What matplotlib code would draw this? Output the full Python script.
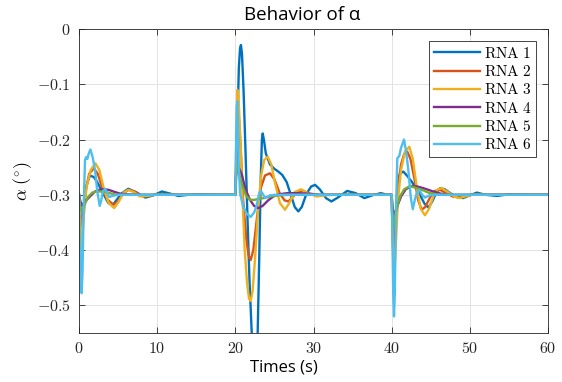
import numpy as np
import matplotlib
matplotlib.use("Agg")
import matplotlib.pyplot as plt
from matplotlib.ticker import FuncFormatter

plt.rcParams['mathtext.fontset'] = 'cm'

# RNA 1
t1 = [0, 0.15, 0.34, 0.6, 0.9, 1.4, 1.9, 2.3, 3.0, 3.75, 4.4, 5.4, 6.3, 7.4, 8.5, 9.5, 10.6, 11.7, 12.7, 14.0, 15.5, 17, 20.0,
      20.1, 20.25, 20.45, 20.6, 20.72, 20.85, 21.05, 21.3, 21.55, 21.8, 22.09, 22.3, 22.47, 22.65, 22.86, 23.05, 23.25, 23.4, 23.5,
      23.65, 23.9, 24.43, 25.0, 25.5, 26.0, 26.57, 27.1, 27.6, 28.06, 28.5, 29.1, 29.7, 30.2, 30.8, 31.6, 32.3, 33.1, 34.3, 35.4,
      36.5, 37.5, 38.6, 39.5, 40.0,
      40.1, 40.3, 40.5, 40.75, 41.06, 41.5, 42.0, 42.56, 43.1, 43.62, 44.2, 44.7, 45.2, 45.7, 46.2, 46.8, 47.5, 48.1, 49.1, 50.0,
      50.9, 52.0, 53.5, 55, 57, 60]
a1 = [-0.3, -0.33, -0.37, -0.32, -0.285, -0.265, -0.268, -0.276, -0.295, -0.315, -0.317, -0.298, -0.289, -0.296, -0.305, -0.301,
      -0.294, -0.298, -0.302, -0.3, -0.299, -0.3, -0.3,
      -0.27, -0.18, -0.07, -0.035, -0.029, -0.045, -0.11, -0.22, -0.34, -0.45, -0.548, -0.6, -0.62, -0.6, -0.548, -0.42, -0.27, -0.2,
      -0.189, -0.2, -0.225, -0.245, -0.253, -0.258, -0.264, -0.277, -0.3, -0.322, -0.33, -0.322, -0.298, -0.285, -0.282, -0.29,
      -0.306, -0.312, -0.305, -0.293, -0.297, -0.306, -0.301, -0.297, -0.3, -0.3,
      -0.36, -0.45, -0.36, -0.28, -0.261, -0.258, -0.266, -0.276, -0.288, -0.3, -0.316, -0.323, -0.312, -0.296, -0.288, -0.29,
      -0.297, -0.302, -0.306, -0.301, -0.296, -0.3, -0.302, -0.299, -0.3, -0.3]

# RNA 2
t2 = [0, 0.15, 0.34, 0.6, 0.9, 1.3, 1.9, 2.4, 3.0, 3.6, 4.4, 5.0, 5.6, 6.3, 7.1, 8.0, 9.0, 10.5, 12, 20.0,
      20.1, 20.3, 20.45, 20.7, 21.0, 21.4, 21.7, 21.96, 22.3, 22.7, 23.2, 23.8, 24.43, 25.0, 25.7, 26.3, 26.78, 27.4, 28.0, 28.7,
      29.5, 30.5, 31.5, 40.0,
      40.1, 40.3, 40.5, 40.8, 41.2, 41.6, 42.0, 42.4, 42.9, 43.4, 43.84, 44.3, 44.9, 45.5, 46.2, 47.0, 47.8, 48.7, 49.6, 50.6,
      52, 60]
a2 = [-0.3, -0.33, -0.376, -0.33, -0.29, -0.262, -0.252, -0.262, -0.288, -0.308, -0.318, -0.312, -0.299, -0.291, -0.294,
      -0.302, -0.301, -0.299, -0.3, -0.3,
      -0.25, -0.15, -0.16, -0.22, -0.31, -0.38, -0.41, -0.418, -0.4, -0.35, -0.29, -0.265, -0.261, -0.272, -0.298, -0.31, -0.312,
      -0.303, -0.295, -0.293, -0.298, -0.302, -0.3, -0.3,
      -0.35, -0.43, -0.36, -0.29, -0.245, -0.226, -0.222, -0.235, -0.27, -0.31, -0.327, -0.322, -0.305, -0.293, -0.291, -0.297,
      -0.303, -0.305, -0.301, -0.299, -0.3, -0.3]

# RNA 3
t3 = [0, 0.15, 0.34, 0.6, 0.98, 1.5, 2.1, 2.6, 3.2, 3.8, 4.5, 5.1, 5.7, 6.3, 7.0, 7.8, 8.8, 10, 12, 20.0,
      20.1, 20.25, 20.4, 20.65, 20.9, 21.2, 21.5, 21.75, 21.96, 22.2, 22.5, 22.9, 23.3, 23.7, 24.14, 24.6, 25.1, 25.7, 26.35,
      26.9, 27.6, 28.4, 29.3, 30.4, 31.5, 33, 40.0,
      40.1, 40.3, 40.5, 40.8, 41.2, 41.7, 42.26, 42.7, 43.2, 43.7, 44.26, 44.8, 45.4, 45.9, 46.4, 47.2, 48.0, 48.7, 49.6, 50.8,
      52, 60]
a3 = [-0.3, -0.34, -0.397, -0.34, -0.285, -0.255, -0.243, -0.255, -0.29, -0.315, -0.324, -0.312, -0.296, -0.291, -0.295,
      -0.303, -0.302, -0.299, -0.3, -0.3,
      -0.22, -0.11, -0.12, -0.2, -0.3, -0.4, -0.46, -0.488, -0.492, -0.475, -0.42, -0.33, -0.265, -0.237, -0.231, -0.245, -0.28,
      -0.315, -0.327, -0.315, -0.295, -0.29, -0.297, -0.303, -0.301, -0.3, -0.3,
      -0.37, -0.46, -0.4, -0.31, -0.255, -0.222, -0.213, -0.235, -0.285, -0.325, -0.337, -0.325, -0.3, -0.29, -0.288, -0.295,
      -0.303, -0.306, -0.302, -0.299, -0.3, -0.3]

# RNA 4
t4 = [0, 0.15, 0.34, 0.7, 1.2, 1.6, 2.05, 2.6, 3.1, 3.8, 4.6, 5.3, 6.1, 8, 20.0,
      20.05, 20.17, 20.4, 20.8, 21.3, 21.87, 22.4, 22.94, 23.5, 24.2, 24.86, 25.6, 26.6, 28, 29.5, 31, 40.0,
      40.1, 40.3, 40.6, 41.2, 41.8, 42.56, 43.3, 44.05, 44.7, 45.3, 46.3, 47.4, 60]
a4 = [-0.3, -0.31, -0.32, -0.313, -0.306, -0.3, -0.294, -0.291, -0.29, -0.291, -0.295, -0.298, -0.299, -0.3, -0.3,
      -0.27, -0.25, -0.25, -0.262, -0.29, -0.309, -0.32, -0.324, -0.32, -0.31, -0.303, -0.299, -0.297, -0.297, -0.298, -0.3, -0.3,
      -0.32, -0.34, -0.325, -0.303, -0.29, -0.284, -0.285, -0.288, -0.291, -0.294, -0.298, -0.3, -0.3]

# RNA 5
t5 = [0, 0.15, 0.34, 0.7, 1.2, 1.7, 2.26, 2.9, 3.5, 4.2, 4.8, 20.0,
      20.05, 20.17, 20.4, 20.7, 21.0, 21.4, 21.87, 22.5, 23.0, 23.6, 24.5, 25.5, 27, 40.0,
      40.1, 40.3, 40.55, 41.06, 41.6, 42.35, 43.2, 44.05, 44.7, 45.3, 46.2, 60]
a5 = [-0.3, -0.32, -0.33, -0.318, -0.303, -0.296, -0.294, -0.294, -0.295, -0.298, -0.3, -0.3,
      -0.27, -0.246, -0.255, -0.275, -0.288, -0.302, -0.309, -0.309, -0.307, -0.306, -0.303, -0.301, -0.3, -0.3,
      -0.33, -0.358, -0.33, -0.303, -0.29, -0.284, -0.288, -0.292, -0.296, -0.298, -0.3, -0.3]

# RNA 6
t6 = [0, 0.12, 0.25, 0.34, 0.45, 0.6, 0.77, 0.9, 1.07, 1.25, 1.45, 1.75, 2.05, 2.35, 2.65, 2.85, 3.05, 3.33, 3.6, 3.88, 4.3, 5,
      20.0,
      20.08, 20.18, 20.25, 20.35, 20.45, 20.6, 21.0, 21.5, 21.96, 22.4, 22.7, 23.0, 23.24, 23.5, 23.8, 24.4, 25, 40.0,
      40.1, 40.2, 40.3, 40.4, 40.55, 40.72, 40.97, 41.2, 41.58, 41.85, 42.13, 42.45, 42.7, 42.95, 43.2, 43.53, 43.9, 44.26,
      44.8, 45.5, 60]
a6 = [-0.3, -0.37, -0.45, -0.478, -0.44, -0.32, -0.237, -0.232, -0.235, -0.225, -0.218, -0.232, -0.255, -0.295, -0.32, -0.31,
      -0.294, -0.289, -0.296, -0.304, -0.302, -0.3, -0.3,
      -0.22, -0.14, -0.131, -0.18, -0.25, -0.297, -0.321, -0.335, -0.34, -0.332, -0.321, -0.3, -0.293, -0.298, -0.306, -0.301,
      -0.3, -0.3,
      -0.38, -0.48, -0.52, -0.48, -0.33, -0.234, -0.23, -0.215, -0.2, -0.222, -0.255, -0.305, -0.326, -0.31, -0.297, -0.291,
      -0.3, -0.305, -0.301, -0.3, -0.3]

labels = ['RNA 1', 'RNA 2', 'RNA 3', 'RNA 4', 'RNA 5', 'RNA 6']
colors = ['#0072BD', '#D95319', '#EDB120', '#7E2F8E', '#77AC30', '#4DBEEE']
series = [(t1, a1), (t2, a2), (t3, a3), (t4, a4), (t5, a5), (t6, a6)]

fig = plt.figure(figsize=(5.62, 3.82), dpi=100)
ax = fig.add_axes([79 / 562, 49 / 382, 469 / 562, 304 / 382])

for (t, a), lab, c in zip(series, labels, colors):
    ax.plot(t, a, color=c, lw=1.7, label=r'$\mathrm{' + lab.replace(' ', r'\ ') + '}$')

ax.set_xlim(0, 60)
ax.set_ylim(-0.55, 0)
ax.set_xticks([0, 10, 20, 30, 40, 50, 60])
ax.set_yticks([-0.5, -0.4, -0.3, -0.2, -0.1, 0])

def fmt(v, pos):
    return '$%g$' % round(v, 3)

ax.xaxis.set_major_formatter(FuncFormatter(fmt))
ax.yaxis.set_major_formatter(FuncFormatter(fmt))

ax.grid(True, color='#e3e3e3', lw=0.7)
ax.set_axisbelow(True)
ax.tick_params(direction='in', top=True, right=True, length=4, width=0.6,
               colors='#262626', labelsize=11.5, pad=6)
for sp in ax.spines.values():
    sp.set_color('#262626')
    sp.set_linewidth(0.6)

# title and x label sit a little left of centre in the original
fig.text(301.7 / 562, 1 - 19.5 / 382, 'Behavior of α', fontfamily='Open Sans',
         fontsize=13.5, ha='center', va='baseline')
ax.set_xlabel('Times (s)', fontfamily='Open Sans', fontsize=12)
ax.xaxis.set_label_coords((284 - 79) / 469, -26 / 304)
ax.set_ylabel(r'$\alpha\ (^{\circ})$', fontsize=13, labelpad=2)

leg = ax.legend(loc='upper right', fontsize=11, handlelength=3.0, handletextpad=0.25,
                labelspacing=0.22, borderpad=0.3, borderaxespad=0, fancybox=False,
                framealpha=1, edgecolor='#262626',
                bbox_to_anchor=(1 - 12 / 469, 1 - 12 / 304))
leg.get_frame().set_linewidth(0.6)

fig.savefig('out.png', dpi=100)
